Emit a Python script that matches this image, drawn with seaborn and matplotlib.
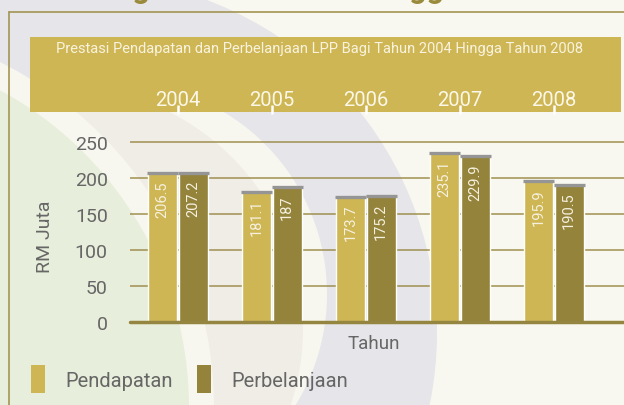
import matplotlib
matplotlib.use('Agg')
import matplotlib.pyplot as plt
import matplotlib.transforms as mtransforms
from matplotlib.patches import Rectangle, Circle, Patch
import pandas as pd
import seaborn as sns

# data
years = ['2004', '2005', '2006', '2007', '2008']
pendapatan = [206.5, 181.1, 173.7, 235.1, 195.9]
perbelanjaan = [207.2, 187, 175.2, 229.9, 190.5]
series = ['Pendapatan', 'Perbelanjaan']
yticks = [0, 50, 100, 150, 200, 250]

gold = '#cfb654'
olive = '#94833b'
grey_txt = '#666666'

df = pd.DataFrame({
    'Tahun': years * 2,
    'RM Juta': pendapatan + perbelanjaan,
    'Jenis': [series[0]] * len(years) + [series[1]] * len(years),
})

sns.set_style('white')
plt.rcParams['font.family'] = ['Roboto', 'DejaVu Sans']

W, H = 624, 406
fig = plt.figure(figsize=(W / 100, H / 100), dpi=100)
fig.patch.set_facecolor('#f9f8f0')

# background: watermark, frame, banner (pixel coords)
bg = fig.add_axes([0, 0, 1, 1], zorder=-1)
bg.set_xlim(0, W)
bg.set_ylim(H, 0)
bg.axis('off')
bg.add_patch(Circle((81, 334), 356, color='#e6e5e9', lw=0))
bg.add_patch(Circle((115, 295), 212, color='#f8f7ef', lw=0))
bg.add_patch(Circle((60, 330), 243, color='#efede6', lw=0))
bg.add_patch(Circle((-171, 408), 385, color='#f8f7ef', lw=0))
bg.add_patch(Circle((-171, 408), 360, color='#e7eedb', lw=0))
bg.plot([9, W], [13, 13], color='#a39553', lw=1.2)
bg.plot([9, 9], [13, H], color='#a39553', lw=1.2)
bg.add_patch(Rectangle((30, 38), 591, 75, color=gold, lw=0))

# heading, cut off by the top edge as in the source page
fig.text(0.5, 1 + 2 / H, 'Perbandingan Tahun 2004 Hingga Tahun 2008', ha='center',
         va='baseline', fontsize=22, fontweight='bold', color='#9a8a3c')

# main axes: group centre 0 at x=178px, 94px per group; y=0 at 323px, 0.72px per unit
x0, step = 178, 94
ax = fig.add_axes([130 / W, (H - 323) / H, (W - 130) / W, 264 * 0.72 / H])
ax.set_facecolor('none')
sns.barplot(data=df, x='Tahun', y='RM Juta', hue='Jenis', palette=[gold, olive],
            width=0.65, gap=0.06, saturation=1, legend=False, ax=ax, zorder=3)
ax.set_xlim((130 - x0) / step, (W - x0) / step)
ax.set_ylim(0, 264)
ax.set_yticks(yticks)
ax.yaxis.grid(True, color='#a09050', lw=1.1)
ax.set_axisbelow(True)
ax.axhline(0, color='#948540', lw=2.5, zorder=4, clip_on=False)
for s in ax.spines.values():
    s.set_visible(False)
ax.tick_params(axis='y', length=0, pad=16, labelsize=14, labelcolor=grey_txt)
ax.tick_params(axis='x', length=0, labelbottom=False)
ax.set_xlabel('')
ax.set_ylabel('')

# grey caps and value labels inside bars
for cont, vals in zip(ax.containers, [pendapatan, perbelanjaan]):
    for p, v in zip(cont, vals):
        xl, w, h = p.get_x(), p.get_width(), p.get_height()
        ax.plot([xl - 0.01, xl + w + 0.01], [h, h], color='#959595', lw=2.4,
                solid_capstyle='butt', zorder=5)
        ax.annotate(f'{v:g}', xy=(xl + w / 2, h), xytext=(0, -5), textcoords='offset points',
                    rotation=90, ha='center', va='top', fontsize=10.5,
                    color='#f5f1e0', zorder=6)

# year labels in banner
trans = mtransforms.blended_transform_factory(ax.transData, fig.transFigure)
for i, yr in enumerate(years):
    ax.text(i, 1 - 100 / H, yr, transform=trans, ha='center', va='center',
            fontsize=14.5, color='#fbf8ea', clip_on=False)
    ax.plot([i, i], [1 - 106 / H, 1 - 115 / H], transform=trans, color='white',
            lw=1.8, solid_capstyle='butt', clip_on=False)

fig.text(319 / W, 1 - 49 / H, 'Prestasi Pendapatan dan Perbelanjaan LPP Bagi Tahun 2004 Hingga Tahun 2008',
         ha='center', va='center', fontsize=10.5, color='#f8f3df')
fig.text(45 / W, 1 - 237 / H, 'RM Juta', rotation=90, ha='center', va='center',
         fontsize=14, color=grey_txt)
fig.text(374 / W, 1 - 344 / H, 'Tahun', ha='center', va='center', fontsize=13.5,
         color=grey_txt)

handles = [Patch(facecolor=gold, lw=0), Patch(facecolor=olive, lw=0)]
fig.legend(handles, series, loc='upper left', bbox_to_anchor=(21 / W, 1 - 356 / H),
           ncol=2, frameon=False, fontsize=14.5, labelcolor=grey_txt, borderpad=0,
           handlelength=0.7, handleheight=1.75, handletextpad=1.0, columnspacing=1.2)

fig.savefig('out.png', dpi=100)
